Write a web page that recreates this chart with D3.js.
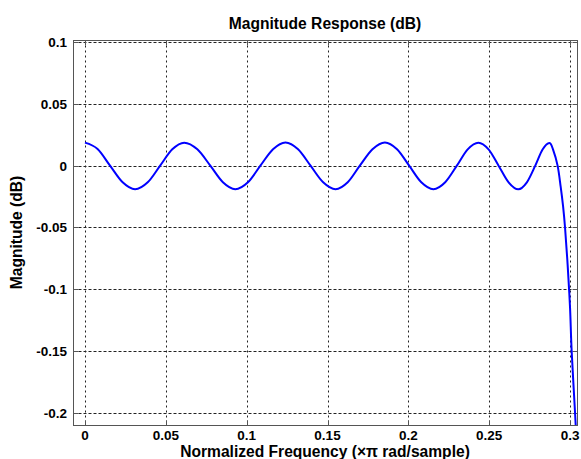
<!DOCTYPE html>
<html>
<head>
<meta charset="utf-8">
<script src="https://cdn.jsdelivr.net/npm/d3@7"></script>
<style>
  body { margin: 0; background: #fff; }
  text { font-family: "Liberation Sans", Arial, sans-serif; fill: #000; }
</style>
</head>
<body>
<div id="chart"></div>
<script>
// Passband ripple + start of the transition band
var freq = [0, 0.0078, 0.0155, 0.0233, 0.031, 0.0388, 0.0465, 0.054, 0.0614, 0.0695,
            0.0775, 0.0853, 0.093, 0.1008, 0.1085, 0.1163, 0.124, 0.1318, 0.1395, 0.1473,
            0.155, 0.1625, 0.170, 0.1778, 0.1855, 0.193, 0.2005, 0.208, 0.2155, 0.2228,
            0.230, 0.2367, 0.2433, 0.2496, 0.2558, 0.262, 0.268, 0.2733, 0.2785, 0.2830,
            0.2872, 0.2895, 0.2923, 0.2942, 0.2957, 0.2969, 0.2985, 0.3000, 0.3010, 0.3031,
            0.3045];
var magDb = [0.0186, 0.0135, 0, -0.0135, -0.0191, -0.0135, 0, 0.0132, 0.0186, 0.0132,
             0, -0.0134, -0.019, -0.0134, 0, 0.0133, 0.0188, 0.0133, 0, -0.0134,
             -0.019, -0.0134, 0, 0.0133, 0.0188, 0.0133, 0, -0.0134, -0.019, -0.0134,
             0, 0.0132, 0.0186, 0.0132, 0, -0.0135, -0.0191, -0.0135, 0, 0.013,
             0.0183, 0.013, 0, -0.017, -0.033, -0.05, -0.08, -0.115, -0.15, -0.2,
             -0.235];

var xTicks = [0, 0.05, 0.1, 0.15, 0.2, 0.25, 0.3],
    xTickLabels = ["0", "0.05", "0.1", "0.15", "0.2", "0.25", "0.3"];
var yTicks = [0.1, 0.05, 0, -0.05, -0.1, -0.15, -0.2],
    yTickLabels = ["0.1", "0.05", "0", "-0.05", "-0.1", "-0.15", "-0.2"];

var width = 581, height = 459,
    axLeft = 73, axRight = 577, axTop = 40, axBottom = 425,
    tickLen = 5;

var x = d3.scaleLinear().domain([-0.0074, 0.3043]).range([axLeft, axRight]);
var y = d3.scaleLinear().domain([-0.2097, 0.1016]).range([axBottom, axTop]);

var svg = d3.select("#chart").append("svg")
    .attr("width", width)
    .attr("height", height);

svg.append("defs").append("clipPath").attr("id", "plotclip")
  .append("rect")
    .attr("x", axLeft).attr("y", axTop)
    .attr("width", axRight - axLeft).attr("height", axBottom - axTop);

var g = svg.append("g").attr("transform", "translate(0.5,0.5)");

// grid
g.selectAll("line.vgrid").data(xTicks).enter().append("line")
    .attr("class", "vgrid")
    .attr("x1", function(d) { return Math.round(x(d)); })
    .attr("x2", function(d) { return Math.round(x(d)); })
    .attr("y1", axTop).attr("y2", axBottom)
    .attr("stroke", "#222").attr("stroke-dasharray", "2,3");
g.selectAll("line.hgrid").data(yTicks).enter().append("line")
    .attr("class", "hgrid")
    .attr("y1", function(d) { return Math.round(y(d)); })
    .attr("y2", function(d) { return Math.round(y(d)); })
    .attr("x1", axLeft).attr("x2", axRight)
    .attr("stroke", "#222").attr("stroke-dasharray", "3,2");

// inward ticks on all four sides
var tk = g.append("g").attr("stroke", "#555");
xTicks.forEach(function(d) {
  var px = Math.round(x(d));
  tk.append("line").attr("x1", px).attr("x2", px).attr("y1", axBottom).attr("y2", axBottom - tickLen);
  tk.append("line").attr("x1", px).attr("x2", px).attr("y1", axTop).attr("y2", axTop + tickLen);
});
yTicks.forEach(function(d) {
  var py = Math.round(y(d));
  tk.append("line").attr("y1", py).attr("y2", py).attr("x1", axLeft).attr("x2", axLeft + tickLen);
  tk.append("line").attr("y1", py).attr("y2", py).attr("x1", axRight).attr("x2", axRight - tickLen);
});

// response curve
var pts = freq.map(function(f, i) { return [f, magDb[i]]; });
var line = d3.line()
    .x(function(d) { return x(d[0]); })
    .y(function(d) { return y(d[1]); })
    .curve(d3.curveCardinal.tension(0));

svg.append("path")
    .datum(pts)
    .attr("clip-path", "url(#plotclip)")
    .attr("d", line)
    .attr("fill", "none")
    .attr("stroke", "#0000ff")
    .attr("stroke-width", 2);

// box
g.append("rect")
    .attr("x", axLeft).attr("y", axTop)
    .attr("width", axRight - axLeft).attr("height", axBottom - axTop)
    .attr("fill", "none").attr("stroke", "#555");

// tick labels
svg.selectAll("text.xlab").data(xTicks).enter().append("text")
    .attr("class", "xlab")
    .attr("x", function(d) { return x(d); })
    .attr("y", 440)
    .attr("text-anchor", "middle")
    .style("font-size", "13.5px")
    .style("font-weight", "bold")
    .text(function(d, i) { return xTickLabels[i]; });

svg.selectAll("text.ylab").data(yTicks).enter().append("text")
    .attr("class", "ylab")
    .attr("x", 67)
    .attr("y", function(d) { return y(d) + 5; })
    .attr("text-anchor", "end")
    .style("font-size", "13.5px")
    .style("font-weight", "bold")
    .text(function(d, i) { return yTickLabels[i]; });

// titles
svg.append("text")
    .attr("x", (axLeft + axRight) / 2).attr("y", 29)
    .attr("text-anchor", "middle")
    .style("font-size", "15.6px").style("font-weight", "bold")
    .text("Magnitude Response (dB)");

svg.append("text")
    .attr("x", (axLeft + axRight) / 2).attr("y", 457)
    .attr("text-anchor", "middle")
    .style("font-size", "15.6px").style("font-weight", "bold")
    .text("Normalized Frequency (\u00d7\u03c0 rad/sample)");

svg.append("text")
    .attr("transform", "translate(22," + ((axTop + axBottom) / 2) + ") rotate(-90)")
    .attr("text-anchor", "middle")
    .style("font-size", "15.6px").style("font-weight", "bold")
    .text("Magnitude (dB)");
</script>
</body>
</html>
